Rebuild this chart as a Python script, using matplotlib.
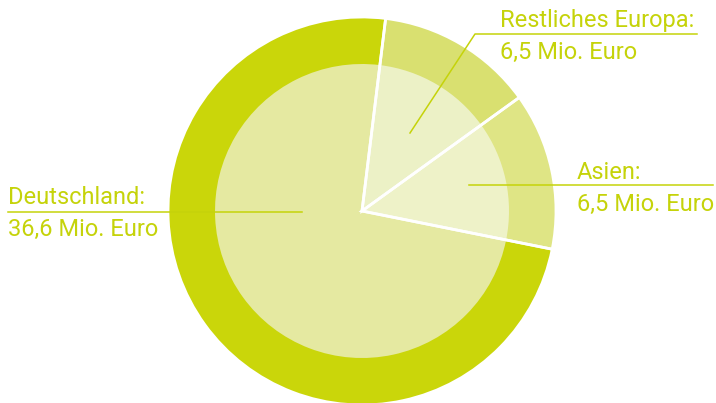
import numpy as np
import matplotlib.pyplot as plt

# values in Mio. Euro
regions = ['Restliches Europa', 'Asien', 'Deutschland']
values = [6.5, 6.5, 36.6]
value_labels = ['6,5 Mio. Euro', '6,5 Mio. Euro', '36,6 Mio. Euro']

outer_colors = ['#d9e070', '#dfe585', '#cad60a']
inner_colors = ['#ecf1c6', '#eef2c8', '#e5e9a1']
text_color = '#c5d30a'

W, H = 716, 403
fig = plt.figure(figsize=(W / 100, H / 100), dpi=100)
ax = fig.add_axes([0, 0, 1, 1])

cx, cy = 362, H - 211
r_out, r_in = 194, 147
start = 83

# outer ring, inner disc, then white separators on top
ax.pie(values, radius=r_out, center=(cx, cy), startangle=start, counterclock=False,
       colors=outer_colors, wedgeprops=dict(linewidth=0), frame=True)
ax.pie(values, radius=r_in, center=(cx, cy), startangle=start, counterclock=False,
       colors=inner_colors, wedgeprops=dict(linewidth=0), frame=True)
ax.pie(values, radius=r_out, center=(cx, cy), startangle=start, counterclock=False,
       colors=['none'] * 3, wedgeprops=dict(edgecolor='white', linewidth=2), frame=True)
ax.set_xlim(0, W)
ax.set_ylim(0, H)
ax.set_aspect('equal')
ax.axis('off')

font = dict(family='Roboto', fontsize=17, color=text_color, fontweight='normal')

def label(x, y, name, val):
    ax.text(x, H - y, name + ':', ha='left', va='baseline', **font)
    ax.text(x, H - y - 32, val, ha='left', va='baseline', **font)

# Restliches Europa
ax.plot([410, 475, 697], [H - 133, H - 34, H - 34], color=text_color, lw=1.1)
label(500, 27, regions[0], value_labels[0])
# Asien
ax.plot([469, 713], [H - 185, H - 185], color=text_color, lw=1.1)
label(577, 179, regions[1], value_labels[1])
# Deutschland
ax.plot([8, 302], [H - 212, H - 212], color=text_color, lw=1.1)
label(8, 204, regions[2], value_labels[2])

fig.savefig('out.png', dpi=100)
